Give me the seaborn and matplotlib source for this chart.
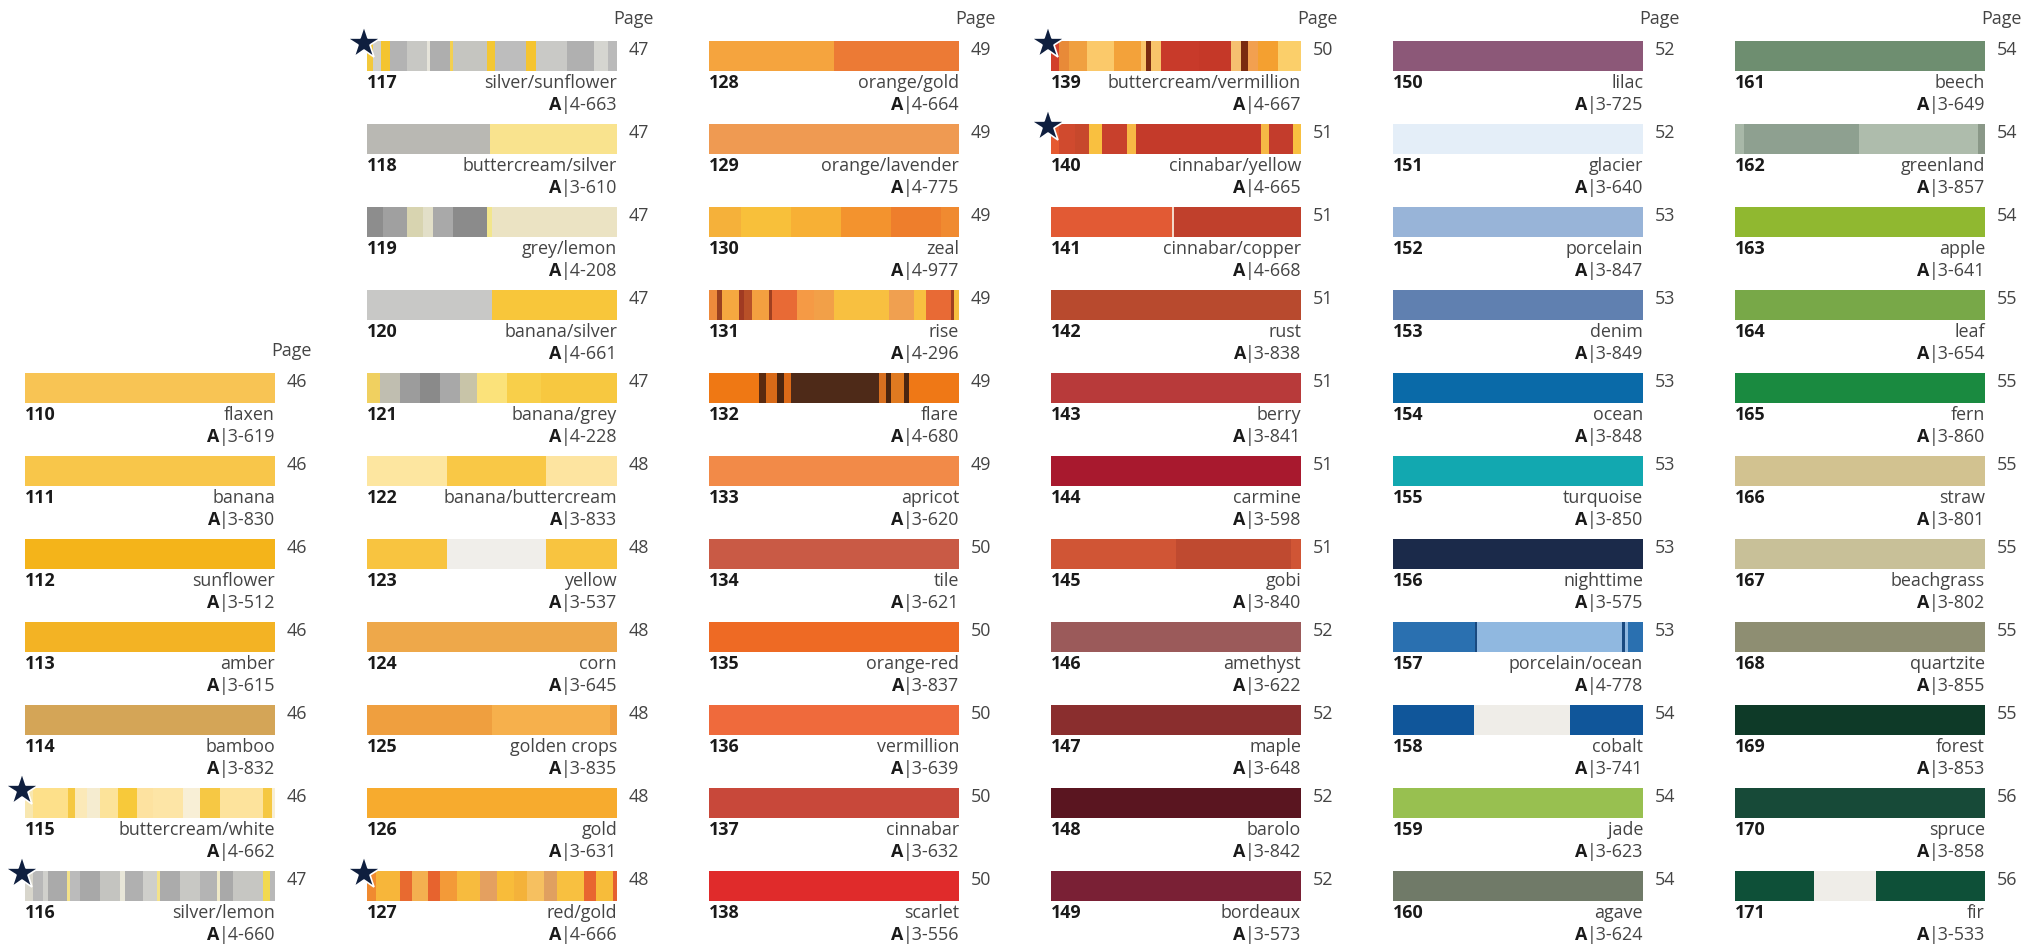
import matplotlib
matplotlib.use("Agg")
import matplotlib.pyplot as plt
import seaborn as sns

# ---------------- data ----------------
ids = list(range(110, 172))
names = ["flaxen", "banana", "sunflower", "amber", "bamboo", "buttercream/white", "silver/lemon",
         "silver/sunflower", "buttercream/silver", "grey/lemon", "banana/silver", "banana/grey",
         "banana/buttercream", "yellow", "corn", "golden crops", "gold", "red/gold",
         "orange/gold", "orange/lavender", "zeal", "rise", "flare", "apricot", "tile",
         "orange-red", "vermillion", "cinnabar", "scarlet",
         "buttercream/vermillion", "cinnabar/yellow", "cinnabar/copper", "rust", "berry",
         "carmine", "gobi", "amethyst", "maple", "barolo", "bordeaux",
         "lilac", "glacier", "porcelain", "denim", "ocean", "turquoise", "nighttime",
         "porcelain/ocean", "cobalt", "jade", "agave",
         "beech", "greenland", "apple", "leaf", "fern", "straw", "beachgrass", "quartzite",
         "forest", "spruce", "fir"]
codes = ["3-619", "3-830", "3-512", "3-615", "3-832", "4-662", "4-660",
         "4-663", "3-610", "4-208", "4-661", "4-228", "3-833", "3-537", "3-645", "3-835", "3-631", "4-666",
         "4-664", "4-775", "4-977", "4-296", "4-680", "3-620", "3-621", "3-837", "3-639", "3-632", "3-556",
         "4-667", "4-665", "4-668", "3-838", "3-841", "3-598", "3-840", "3-622", "3-648", "3-842", "3-573",
         "3-725", "3-640", "3-847", "3-849", "3-848", "3-850", "3-575", "4-778", "3-741", "3-623", "3-624",
         "3-649", "3-857", "3-641", "3-654", "3-860", "3-801", "3-802", "3-855", "3-853", "3-858", "3-533"]
pages = [46, 46, 46, 46, 46, 46, 47,
         47, 47, 47, 47, 47, 48, 48, 48, 48, 48, 48,
         49, 49, 49, 49, 49, 49, 50, 50, 50, 50, 50,
         50, 51, 51, 51, 51, 51, 51, 52, 52, 52, 52,
         52, 52, 53, 53, 53, 53, 53, 53, 54, 54, 54,
         54, 54, 54, 55, 55, 55, 55, 55, 55, 56, 56]
base_colors = ["#f8c454", "#f8c64a", "#f4b41a", "#f3b324", "#d4a557", "#fde39c", "#bdbdbb",
               "#c2c2be", "#b9b8b3", "#a0a0a0", "#c8c8c6", "#f8cf4a", "#fde6a0", "#f8c440", "#eea84a",
               "#f3a845", "#f7ab2e", "#f4a83a",
               "#f09040", "#ef9a52", "#f5aa34", "#f4a040", "#ef7816", "#f28a48", "#c95a45",
               "#ee6a24", "#ef6a3c", "#c8483a", "#e02b2b",
               "#e08a40", "#c84030", "#d04c30", "#b84a2e", "#b83a3a", "#a8192e", "#c84f32",
               "#9b5a5a", "#8a2e2e", "#5a1520", "#7a2035",
               "#8c5878", "#e4eef8", "#98b4d8", "#6080b0", "#0a6aa8", "#12a8b0", "#1b2a4a",
               "#90b8e0", "#10569a", "#98c050", "#707a68",
               "#6e8e70", "#9aab9a", "#90b830", "#78a848", "#1a8a40", "#d2c290", "#c8c098",
               "#8e8e72", "#0e3a28", "#174a38", "#0e5038"]
starred = [115, 116, 117, 127, 139, 140]

# stripe patterns: (relative width, colour) for multi-coloured fabrics
stripes = {
    115: [(25, "#f8e7b0"), (105, "#fde08a"), (20, "#f5c842"), (35, "#fbe9b8"), (40, "#f5ecd0"),
          (55, "#fce39a"), (55, "#f7c93a"), (50, "#fde2a0"), (90, "#fde5a6"), (50, "#f8efd6"),
          (60, "#f6c844"), (130, "#fde39c"), (25, "#f5c842"), (10, "#f8efd6")],
    116: [(25, "#d8d6cc"), (30, "#b8b8b8"), (15, "#d0d0cc"), (55, "#aaaaaa"), (10, "#f3e28a"),
          (30, "#bbbbbb"), (60, "#a8a8a8"), (60, "#c4c4c0"), (15, "#e8e6d8"), (55, "#b0b0b0"),
          (40, "#cfcfcb"), (10, "#f3e28a"), (60, "#ababab"), (60, "#c8c8c4"), (50, "#b4b4b4"),
          (10, "#efe9c8"), (40, "#a9a9a9"), (90, "#c6c6c2"), (20, "#f2d950"), (15, "#b8b8b8")],
    117: [(18, "#f3c93c"), (25, "#d0d0cc"), (25, "#f4c430"), (50, "#b3b3b3"), (60, "#c8c8c4"),
          (10, "#e6e4da"), (60, "#aeaeae"), (10, "#f3d050"), (100, "#c5c5c0"), (25, "#f3c734"),
          (90, "#bdbdbd"), (30, "#f5c430"), (95, "#c9c9c6"), (80, "#b0b0b0"), (40, "#d5d5d0"),
          (28, "#bababa")],
    118: [(368, "#b9b8b3"), (378, "#f9e38e")],
    119: [(48, "#8d8d8d"), (70, "#a0a0a0"), (50, "#d8d4b0"), (30, "#e2dfc8"), (60, "#a9a9a9"),
          (100, "#8b8b8b"), (15, "#f2e68c"), (373, "#ebe3c3")],
    120: [(373, "#c8c8c6"), (373, "#f8c63a")],
    121: [(38, "#f0d060"), (60, "#c0beb0"), (60, "#9c9c9c"), (60, "#8a8a8a"), (60, "#a8a8a8"),
          (50, "#c8c4a8"), (90, "#fbe27a"), (100, "#f8cf4a"), (228, "#f7c840")],
    122: [(240, "#fde6a0"), (293, "#f9c846"), (213, "#fde4a0")],
    123: [(240, "#f8c440"), (293, "#f0eeea"), (213, "#f8c440")],
    125: [(373, "#ef9f3f"), (353, "#f6b04c"), (20, "#ef9f3f")],
    127: [(28, "#f08a30"), (70, "#f7b63a"), (35, "#e86a30"), (50, "#f4b050"), (35, "#e7632e"),
          (50, "#f39a38"), (70, "#f7bb3e"), (50, "#e4a060"), (50, "#f8bc3a"), (40, "#f4b23a"),
          (50, "#f6c060"), (40, "#e0a060"), (80, "#f8c040"), (35, "#e86530"), (50, "#f7bc3a"),
          (13, "#e56030")],
    128: [(375, "#f5a43e"), (375, "#ec7a35")],
    130: [(95, "#f5b13a"), (150, "#f8c03a"), (150, "#f7b035"), (150, "#f3932e"), (150, "#ee7e2c"),
          (55, "#f08a30")],
    131: [(25, "#ee8a3c"), (15, "#9a4020"), (50, "#f5a840"), (15, "#a03a22"), (25, "#b85028"),
          (50, "#f4a040"), (10, "#a04020"), (75, "#e86a35"), (50, "#f59a45"), (60, "#f2a048"),
          (165, "#f8c040"), (75, "#f0a050"), (35, "#f8c040"), (75, "#e86a35"), (10, "#a04020"),
          (15, "#f8c040")],
    132: [(150, "#ef7814"), (20, "#5a2a10"), (35, "#d86a18"), (20, "#4a2510"), (20, "#dc6a18"),
          (265, "#4e2a18"), (20, "#d87020"), (15, "#4a2510"), (40, "#e07a20"), (15, "#4a2510"),
          (150, "#ef7816")],
    139: [(23, "#d2402a"), (30, "#e88a38"), (55, "#f0a040"), (80, "#fbc96a"), (80, "#f3a23a"),
          (15, "#f9c46a"), (15, "#7a2a10"), (30, "#f9c46a"), (115, "#c83a2a"), (95, "#c53828"),
          (30, "#f6c070"), (20, "#7a2a10"), (30, "#f2a050"), (60, "#f4a030"), (70, "#fbcf6a")],
    140: [(23, "#e55a30"), (50, "#d04a2e"), (40, "#c7482c"), (40, "#f9c040"), (75, "#c8402c"),
          (25, "#f7b845"), (375, "#c43a2a"), (25, "#f6b845"), (70, "#c33c2c"), (25, "#f8c040")],
    141: [(363, "#e25a34"), (5, "#f4d8c8"), (380, "#c0402c")],
    145: [(373, "#d05535"), (345, "#bf4a30"), (30, "#d05535")],
    157: [(198, "#2a70b0"), (5, "#1a4a80"), (350, "#90b8e0"), (7, "#1a4a80"), (6, "#90b8e0"),
          (37, "#2a70b0")],
    158: [(196, "#10569a"), (230, "#efede8"), (177, "#10569a")],
    162: [(28, "#a8b8a8"), (345, "#8ea090"), (355, "#aebcac"), (22, "#8a9888")],
    171: [(60, "#0e5038"), (47, "#efede8"), (83, "#0e5038")],
}

# ---------------- layout ----------------
X0, DX, W = 25, 342, 250
Y0, DY, H = 41, 83, 30

sns.set_theme(style="white")
plt.rcParams["font.family"] = ["Open Sans", "DejaVu Sans"]

fig = plt.figure(figsize=(20.42, 9.44), dpi=100)
ax = fig.add_axes([0, 0, 1, 1])
ax.set_xlim(0, 2042)
ax.set_ylim(944, 0)
ax.axis("off")

FS = 12.9
TXT = "#444444"


def position(sid):
    if sid <= 116:
        return 0, 4 + (sid - 110)
    k = sid - 117
    return 1 + k // 11, k % 11


code_texts = []
for i, sid in enumerate(ids):
    col, row = position(sid)
    left = X0 + DX * col
    top = Y0 + DY * row
    pattern = stripes.get(sid, [(1, base_colors[i])])
    total = sum(w for w, _ in pattern)
    acc = 0
    for w, c in pattern:
        ax.barh(top + H / 2, W * w / total, left=left + W * acc / total, height=H,
                color=c, edgecolor="none", linewidth=0)
        acc += w
    # labels
    ax.text(left, top + H + 12, str(sid), ha="left", va="center", fontsize=FS,
            fontweight="bold", color="#1a1a1a")
    ax.text(left + W, top + H + 12, names[i], ha="right", va="center", fontsize=FS, color=TXT)
    t = ax.text(left + W, top + H + 34, "|" + codes[i], ha="right", va="center",
                fontsize=FS, color=TXT)
    code_texts.append((t, top + H + 34))
    ax.text(left + W + 12, top + 9, str(pages[i]), ha="left", va="center", fontsize=FS, color=TXT)
    if sid in starred:
        ax.plot(left - 3, top + 2, marker="*", ms=25, color="#0f1f3f", mec="white", mew=1.2,
                zorder=5)

# "Page" headers
for col in range(6):
    row0 = 4 if col == 0 else 0
    ax.text(X0 + DX * col + W + 37, Y0 + DY * row0 - 22, "Page", ha="right", va="center",
            fontsize=FS, color=TXT)

# bold "A" before every code
fig.canvas.draw()
renderer = fig.canvas.get_renderer()
inv = ax.transData.inverted()
for t, y in code_texts:
    bb = t.get_window_extent(renderer=renderer)
    x_left = inv.transform((bb.x0, bb.y0))[0]
    ax.text(x_left + 1, y, "A", ha="right", va="center", fontsize=FS, fontweight="bold",
            color="#1a1a1a")

fig.savefig("out.png", dpi=100, facecolor="white")
